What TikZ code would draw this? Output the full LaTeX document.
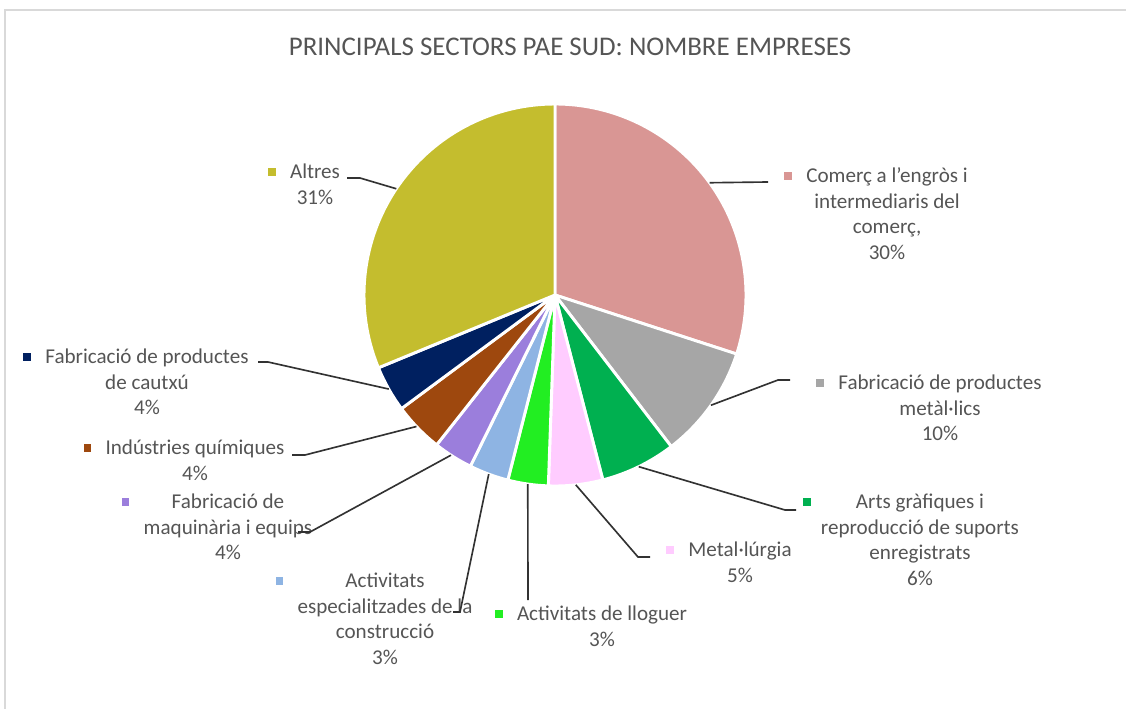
\documentclass[tikz,border=0pt]{standalone}
\usepackage{fontspec}
\setmainfont{Carlito}
\usetikzlibrary{calc}

\definecolor{comercolor}{RGB}{217,150,148}
\definecolor{metalicscolor}{RGB}{166,166,166}
\definecolor{artscolor}{RGB}{0,176,80}
\definecolor{metallurgiacolor}{RGB}{255,204,255}
\definecolor{lloguercolor}{RGB}{34,238,34}
\definecolor{especialcolor}{RGB}{142,180,227}
\definecolor{maquinariacolor}{RGB}{155,126,220}
\definecolor{quimiquescolor}{RGB}{158,72,14}
\definecolor{cautxucolor}{RGB}{0,32,96}
\definecolor{altrescolor}{RGB}{196,189,46}
\definecolor{textcolor}{RGB}{85,85,85}
\definecolor{linecolor}{RGB}{50,50,50}
\definecolor{bordercolor}{RGB}{217,217,217}

\tikzset{
  %% slice : one sector of the pie, white gap to its neighbours
  slice/.style={
    draw=white,
    line width=2.5pt,
    line join=round
  },
  %% lbl : data label (name and share)
  lbl/.style={
    text=textcolor,
    align=center,
    inner sep=0pt,
    anchor=north,
    font=\fontsize{18}{22}\selectfont
  },
  %% key : small legend square in front of a label
  key/.style={
    rectangle,
    minimum size=6.5pt,
    inner sep=0pt
  },
  %% leader : line from a slice to its label
  leader/.style={draw=linecolor, line width=1.4pt},
  %% border : frame of the chart area
  border/.style={draw=bordercolor, line width=1.6pt}
}

\begin{document}
\begin{tikzpicture}
  [x=0.03cm,
  y=-0.03cm]

  \useasboundingbox (0,0) rectangle (1126,709);
  \draw [border] (5,709) -- (5,10) -- (1126,10);

  \node (title) [text=textcolor, font=\fontsize{23}{26}\selectfont] at (570,47) {%
    PRINCIPALS SECTORS PAE SUD: NOMBRE EMPRESES};

  %% Pie, clockwise from the top
  \coordinate (c) at (555,295);
  \draw [slice, fill=comercolor] (c) -- ++(-90:191) arc[start angle=-90, end angle=18, radius=191] -- cycle;
  \draw [slice, fill=metalicscolor] (c) -- ++(18:191) arc[start angle=18, end angle=52.5, radius=191] -- cycle;
  \draw [slice, fill=artscolor] (c) -- ++(52.5:191) arc[start angle=52.5, end angle=75.5, radius=191] -- cycle;
  \draw [slice, fill=metallurgiacolor] (c) -- ++(75.5:191) arc[start angle=75.5, end angle=92, radius=191] -- cycle;
  \draw [slice, fill=lloguercolor] (c) -- ++(92:191) arc[start angle=92, end angle=104.3, radius=191] -- cycle;
  \draw [slice, fill=especialcolor] (c) -- ++(104.3:191) arc[start angle=104.3, end angle=116.3, radius=191] -- cycle;
  \draw [slice, fill=maquinariacolor] (c) -- ++(116.3:191) arc[start angle=116.3, end angle=128.3, radius=191] -- cycle;
  \draw [slice, fill=quimiquescolor] (c) -- ++(128.3:191) arc[start angle=128.3, end angle=143.5, radius=191] -- cycle;
  \draw [slice, fill=cautxucolor] (c) -- ++(143.5:191) arc[start angle=143.5, end angle=157.6, radius=191] -- cycle;
  \draw [slice, fill=altrescolor] (c) -- ++(157.6:191) arc[start angle=157.6, end angle=270, radius=191] -- cycle;

  %% Labels
  \node (altres) [lbl] at (315,160) {\strut Altres\\31\%};
  \node (comerc) [lbl] at (887,164) {\strut Comerç a l’engròs i\\intermediaris del\\comerç,\\30\%};
  \node (metalics) [lbl] at (940,371) {\strut Fabricació de productes\\metàl·lics\\10\%};
  \node (arts) [lbl] at (920,490) {\strut Arts gràfiques i\\reproducció de suports\\enregistrats\\6\%};
  \node (metallurgia) [lbl] at (740,538) {\strut Metal·lúrgia\\5\%};
  \node (lloguer) [lbl] at (602,602) {\strut Activitats de lloguer\\3\%};
  \node (especial) [lbl] at (385,569) {\strut Activitats\\especialitzades de la\\construcció\\3\%};
  \node (maquinaria) [lbl] at (228,490) {\strut Fabricació de\\maquinària i equips\\4\%};
  \node (quimiques) [lbl] at (195,436) {\strut Indústries químiques\\4\%};
  \node (cautxu) [lbl] at (147,345) {\strut Fabricació de productes\\de cautxú\\4\%};

  %% Legend keys
  \node (altres-k) [key, fill=altrescolor] at ($(altres.north west)+(-18,12)$) {};
  \node (comerc-k) [key, fill=comercolor] at ($(comerc.north west)+(-18,12)$) {};
  \node (metalics-k) [key, fill=metalicscolor] at ($(metalics.north west)+(-18,12)$) {};
  \node (arts-k) [key, fill=artscolor] at ($(arts.north west)+(-14,12)$) {};
  \node (metallurgia-k) [key, fill=metallurgiacolor] at ($(metallurgia.north west)+(-18,12)$) {};
  \node (lloguer-k) [key, fill=lloguercolor] at ($(lloguer.north west)+(-18,12)$) {};
  \node (especial-k) [key, fill=especialcolor] at ($(especial.north west)+(-18,12)$) {};
  \node (maquinaria-k) [key, fill=maquinariacolor] at ($(maquinaria.north west)+(-18,12)$) {};
  \node (quimiques-k) [key, fill=quimiquescolor] at ($(quimiques.north west)+(-18,12)$) {};
  \node (cautxu-k) [key, fill=cautxucolor] at ($(cautxu.north west)+(-18,12)$) {};

  %% Leader lines
  \coordinate (altres-p) at ($(c)+(213.8:191)$);
  \coordinate (altres-e) at (347,178);
  \draw [leader] (altres-p) -- (360,178) -- (altres-e);

  \coordinate (comerc-p) at ($(c)+(-36:191)$);
  \coordinate (comerc-e) at (768,182);
  \draw [leader] (comerc-p) -- (comerc-e);

  \coordinate (metalics-p) at ($(c)+(35.25:191)$);
  \coordinate (metalics-e) at (790,380);
  \draw [leader] (metalics-p) -- (778,380) -- (metalics-e);

  \coordinate (arts-p) at ($(c)+(64:191)$);
  \coordinate (arts-e) at (796,510);
  \draw [leader] (arts-p) -- (785,510) -- (arts-e);

  \coordinate (metallurgia-p) at ($(c)+(83.75:191)$);
  \coordinate (metallurgia-e) at (650,557);
  \draw [leader] (metallurgia-p) -- (638,557) -- (metallurgia-e);

  \coordinate (lloguer-p) at ($(c)+(98.2:191)$);
  \coordinate (lloguer-e) at (528,600);
  \draw [leader] (lloguer-p) -- (lloguer-e);

  \coordinate (especial-p) at ($(c)+(110.3:191)$);
  \coordinate (especial-e) at (453,612);
  \draw [leader] (especial-p) -- (460,612) -- (especial-e);

  \coordinate (maquinaria-p) at ($(c)+(123:191)$);
  \coordinate (maquinaria-e) at (298,532);
  \draw [leader] (maquinaria-p) -- (310,532) -- (maquinaria-e);

  \coordinate (quimiques-p) at ($(c)+(136.5:191)$);
  \coordinate (quimiques-e) at (292,455);
  \draw [leader] (quimiques-p) -- (305,455) -- (quimiques-e);

  \coordinate (cautxu-p) at ($(c)+(150.5:191)$);
  \coordinate (cautxu-e) at (258,362);
  \draw [leader] (cautxu-p) -- (268,362) -- (cautxu-e);

\end{tikzpicture}
\end{document}
